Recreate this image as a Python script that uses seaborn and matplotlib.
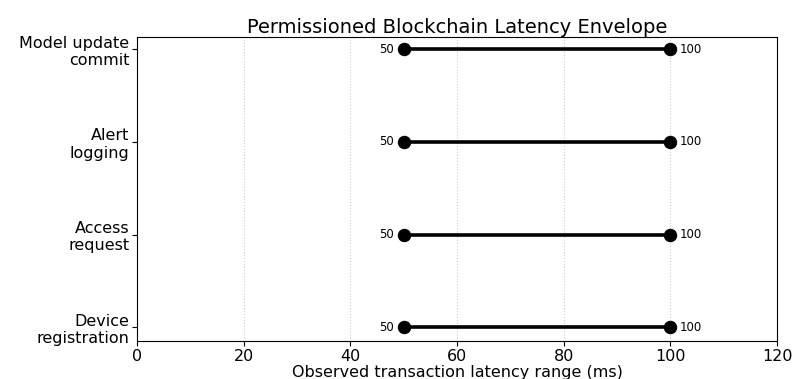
import pandas as pd
import matplotlib
matplotlib.use("Agg")
import matplotlib.pyplot as plt
import seaborn as sns

# --- Dados ---
etapas = ['Device\nregistration', 'Access\nrequest', 'Alert\nlogging', 'Model update\ncommit']
latencia_min = [50, 50, 50, 50]
latencia_max = [100, 100, 100, 100]

df = pd.DataFrame({'Etapa': etapas, 'Min': latencia_min, 'Max': latencia_max})
df['Pos'] = range(len(df))

sns.set_style("white")
plt.rcParams['font.family'] = ['DejaVu Sans']
plt.rcParams['text.color'] = 'black'
plt.rcParams['axes.labelcolor'] = 'black'
plt.rcParams['xtick.color'] = 'black'
plt.rcParams['ytick.color'] = 'black'

fig = plt.figure(figsize=(7.97, 3.79), dpi=100)
ax = fig.add_axes([0.172, 0.10, 0.803, 0.802])

# Barras de intervalo (min-max)
for _, row in df.iterrows():
    ax.plot([row['Min'], row['Max']], [row['Pos'], row['Pos']], color='black', lw=2.6, zorder=2)

pontos = pd.concat([
    df[['Pos', 'Min']].rename(columns={'Min': 'Valor'}),
    df[['Pos', 'Max']].rename(columns={'Max': 'Valor'}),
])
sns.scatterplot(data=pontos, x='Valor', y='Pos', color='black', s=80,
                edgecolor='black', zorder=3, ax=ax, legend=False)

# Rótulos dos extremos
for _, row in df.iterrows():
    ax.text(row['Min'] - 1.8, row['Pos'], f"{row['Min']}", ha='right', va='center', fontsize=8.5)
    ax.text(row['Max'] + 1.8, row['Pos'], f"{row['Max']}", ha='left', va='center', fontsize=8.5)

ax.set_xlim(0, 120)
ax.set_ylim(-0.15, 3.13)
ax.set_xticks([0, 20, 40, 60, 80, 100, 120])
ax.set_yticks(df['Pos'])
ax.set_yticklabels(df['Etapa'], ha='right', fontsize=11.5)
ax.tick_params(axis='x', labelsize=11.5, length=3.5, width=0.8, bottom=True, pad=2)
ax.tick_params(axis='y', length=3.5, width=0.8, left=True, pad=2)
ax.xaxis.grid(True, linestyle=':', color='#cccccc', lw=0.8)
ax.yaxis.grid(False)
for s in ax.spines.values():
    s.set_color('black')
    s.set_linewidth(0.8)

ax.set_title('Permissioned Blockchain Latency Envelope', fontsize=14, pad=3)
ax.set_xlabel('Observed transaction latency range (ms)', fontsize=11.5, labelpad=1)
ax.set_ylabel('')

fig.savefig('out.png', dpi=100)
